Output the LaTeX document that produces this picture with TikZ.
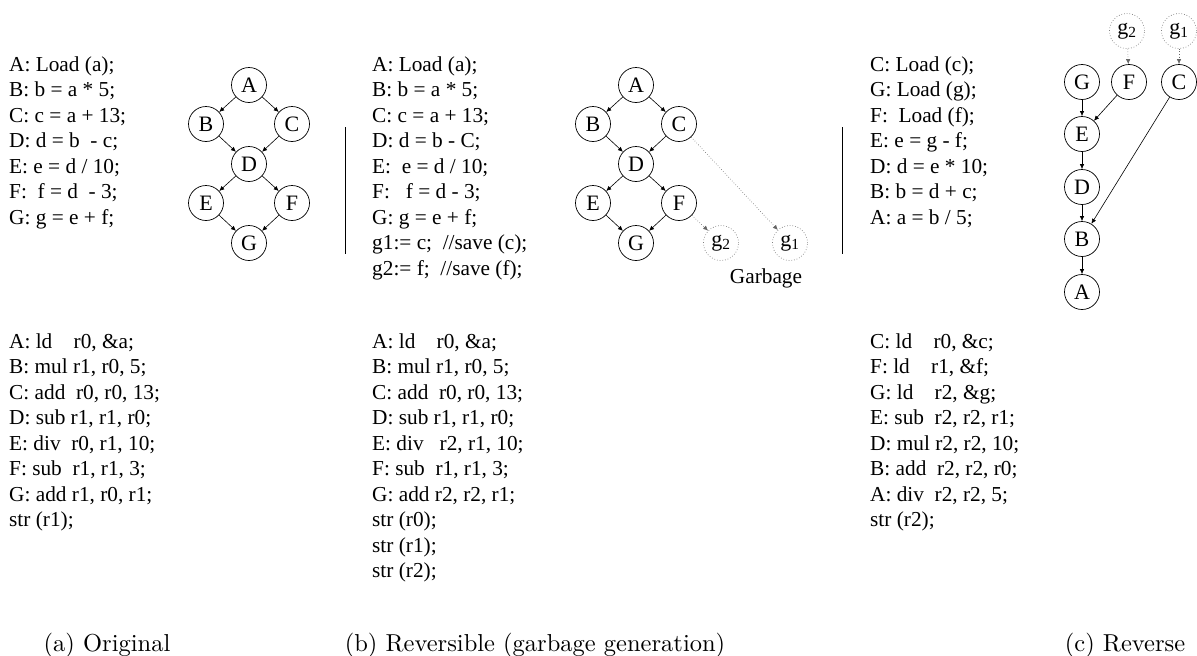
\documentclass[tikz,border=0pt]{standalone}
\usepackage{fontspec}
\newfontfamily\codefont{Liberation Serif}
\newfontfamily\capfont{lmroman10-regular}[Extension=.otf]
\usetikzlibrary{arrows.meta}
\tikzset{
  code/.style={anchor=north west, inner sep=0pt, align=left,
    font=\codefont\fontsize{21.3}{25.5}\selectfont},
  vert/.style={circle, draw, line width=0.7pt, minimum size=35pt, inner sep=0pt,
    font=\codefont\fontsize{22}{22}\selectfont},
  garb/.style={vert, draw=gray, dotted},
  edge/.style={line width=0.6pt, -{Latex[length=5pt,width=4.5pt]}},
  gedge/.style={edge, draw=gray!80!black, dotted},
  sep/.style={line width=0.8pt},
  capt/.style={inner sep=0pt, font=\capfont\fontsize{24.5}{28}\selectfont},
  lbl/.style={inner sep=0pt, font=\codefont\fontsize{21.3}{25.5}\selectfont}
}
\begin{document}
\begin{tikzpicture}[x=1pt,y=-1pt]
\path[use as bounding box] (0,0) rectangle (1197,656);

% ---------- (a) original ----------
\node[code] (asrc) at (9,56.5) {A: Load (a);\\B: b = a * 5;\\C: c = a + 13;\\D: d = b ~- c;\\E: e = d / 10;\\F: ~f = d ~- 3;\\G: g = e + f;};
\node[code] (aasm) at (9,333.5) {A: ld ~~~r0, \&a;\\B: mul r1, r0, 5;\\C: add ~r0, r0, 13;\\D: sub r1, r1, r0;\\E: div ~r0, r1, 10;\\F: sub ~r1, r1, 3;\\G: add r1, r0, r1;\\str (r1);};

\node[vert] (aA) at (249,85) {A};
\node[vert] (aB) at (206,124) {B};
\node[vert] (aC) at (292,124) {C};
\node[vert] (aD) at (249,164) {D};
\node[vert] (aE) at (206,203) {E};
\node[vert] (aF) at (292,203) {F};
\node[vert] (aG) at (249,243) {G};
\draw[edge] (aA) -- (aB);
\draw[edge] (aA) -- (aC);
\draw[edge] (aB) -- (aD);
\draw[edge] (aC) -- (aD);
\draw[edge] (aD) -- (aE);
\draw[edge] (aD) -- (aF);
\draw[edge] (aE) -- (aG);
\draw[edge] (aF) -- (aG);

\coordinate (s1t) at (345,127);
\coordinate (s1b) at (345,254);
\draw[sep] (s1t) -- (s1b);

% ---------- (b) reversible with garbage ----------
\node[code] (bsrc) at (372,56.5) {A: Load (a);\\B: b = a * 5;\\C: c = a + 13;\\D: d = b - C;\\E: ~e = d / 10;\\F: ~~f = d - 3;\\G: g = e + f;\\g1:= c; ~//save (c);\\g2:= f; ~//save (f);};
\node[code] (basm) at (372,333.5) {A: ld ~~~r0, \&a;\\B: mul r1, r0, 5;\\C: add ~r0, r0, 13;\\D: sub r1, r1, r0;\\E: div ~~r2, r1, 10;\\F: sub ~r1, r1, 3;\\G: add r2, r2, r1;\\str (r0);\\str (r1);\\str (r2);};

\node[vert] (bA) at (636,85) {A};
\node[vert] (bB) at (593,124) {B};
\node[vert] (bC) at (679,124) {C};
\node[vert] (bD) at (636,164) {D};
\node[vert] (bE) at (593,203) {E};
\node[vert] (bF) at (679,203) {F};
\node[vert] (bG) at (636,243) {G};
\node[garb] (bg2) at (721,243) {g\textsubscript{2}};
\node[garb] (bg1) at (790,243) {g\textsubscript{1}};
\node[lbl] (garbage) at (766,278) {Garbage};
\draw[edge] (bA) -- (bB);
\draw[edge] (bA) -- (bC);
\draw[edge] (bB) -- (bD);
\draw[edge] (bC) -- (bD);
\draw[edge] (bD) -- (bE);
\draw[edge] (bD) -- (bF);
\draw[edge] (bE) -- (bG);
\draw[edge] (bF) -- (bG);
\draw[gedge] (bF) -- (bg2);
\draw[gedge] (bC) -- (bg1);

\coordinate (s2t) at (842,127);
\coordinate (s2b) at (842,254);
\draw[sep] (s2t) -- (s2b);

% ---------- (c) reverse ----------
\node[code] (csrc) at (870,56.5) {C: Load (c);\\G: Load (g);\\F: ~Load (f);\\E: e = g - f;\\D: d = e * 10;\\B: b = d + c;\\A: a = b / 5;};
\node[code] (casm) at (870,333.5) {C: ld ~~~r0, \&c;\\F: ld ~~~r1, \&f;\\G: ld ~~~r2, \&g;\\E: sub ~r2, r2, r1;\\D: mul r2, r2, 10;\\B: add ~r2, r2, r0;\\A: div ~r2, r2, 5;\\str (r2);};

\node[garb] (cg2) at (1127,31) {g\textsubscript{2}};
\node[garb] (cg1) at (1179,31) {g\textsubscript{1}};
\node[vert] (cG) at (1082,82) {G};
\node[vert] (cF) at (1129,82) {F};
\node[vert] (cC) at (1179,82) {C};
\node[vert] (cE) at (1082,134) {E};
\node[vert] (cD) at (1082,187) {D};
\node[vert] (cB) at (1082,239) {B};
\node[vert] (cA) at (1082,292) {A};
\draw[gedge] (cg2) -- (cF);
\draw[gedge] (cg1) -- (cC);
\draw[edge] (cG) -- (cE);
\draw[edge] (cF) -- (cE);
\draw[edge] (cE) -- (cD);
\draw[edge] (cD) -- (cB);
\draw[edge] (cC) -- (cB);
\draw[edge] (cB) -- (cA);

% ---------- captions ----------
\node[capt] (capa) at (107,645) {(a) Original};
\node[capt] (capb) at (535,645) {(b) Reversible (garbage generation)};
\node[capt] (capc) at (1125,645) {(c) Reverse};
\end{tikzpicture}
\end{document}
